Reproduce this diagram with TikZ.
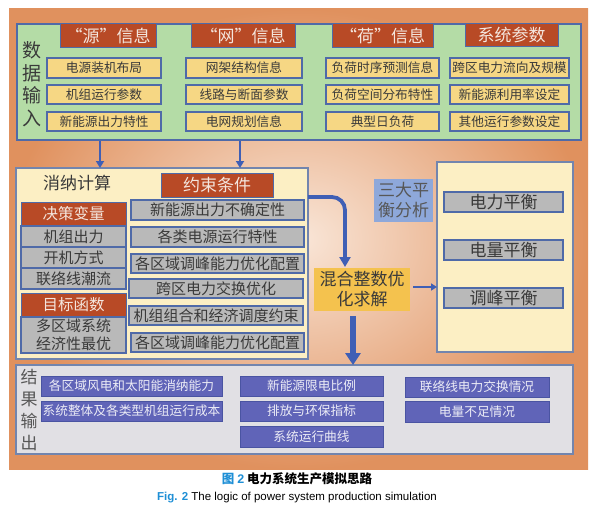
\documentclass[tikz,border=0pt]{standalone}
\usepackage{fontspec}
\setmainfont{Noto Sans CJK SC}
\newfontfamily\lat{Liberation Sans}
\usetikzlibrary{arrows.meta}
\definecolor{bgout}{HTML}{E0915E}
\definecolor{bgin}{HTML}{F9E6D8}
\definecolor{grn}{HTML}{B4DCA6}
\definecolor{hdrc}{HTML}{B84A26}
\definecolor{hdrtxt}{HTML}{F4E6DE}
\definecolor{yel}{HTML}{F6D784}
\definecolor{bord}{HTML}{4F6AA8}
\definecolor{pnl}{HTML}{FCEFC4}
\definecolor{pnlb}{HTML}{7285AE}
\definecolor{gry}{HTML}{B9B9B9}
\definecolor{txt}{HTML}{3A3A3A}
\definecolor{mip}{HTML}{F4C24E}
\definecolor{sdb}{HTML}{8EA8DA}
\definecolor{resp}{HTML}{E1E0E4}
\definecolor{resb}{HTML}{6064B8}
\definecolor{resbb}{HTML}{4A54A2}
\definecolor{restxt}{HTML}{ECECF6}
\definecolor{arr}{HTML}{3F5FB5}
\definecolor{capblue}{HTML}{1E8FD6}
\newcommand\bx[7]{\node[#1,minimum width={#5pt-#3pt},minimum height={#6pt-#4pt}] (#2) at ({(#3+#5)/2},{(#4+#6)/2}) {#7};}
\begin{document}
\begin{tikzpicture}[x=1pt,y=-1pt,
  every node/.style={inner sep=0pt,outer sep=0pt},
  panel/.style={draw=pnlb,line width=1.2pt},
  hdr/.style={fill=hdrc,draw=bord,line width=1pt,text=hdrtxt,font=\fontsize{17}{17}\selectfont},
  ybox/.style={fill=yel,draw=bord,line width=1.2pt,text=txt,font=\fontsize{12.7}{13}\selectfont},
  gbox/.style={fill=gry,draw=bord,line width=1.2pt,text=txt,font=\fontsize{15}{18}\selectfont,align=center},
  rbox/.style={fill=resb,draw=resbb,line width=1pt,text=restxt,font=\fontsize{12.7}{13}\selectfont},
  plain/.style={text=txt,align=center},
  thinarrow/.style={draw=arr,line width=2.6pt,-{Triangle[length=7pt,width=8pt]}},
]
\useasboundingbox (0,0) rectangle (594,511);
\fill[white] (0,0) rectangle (594,511);
\shade[inner color=bgin,outer color=bgout] (9,9) rectangle (588,469);

% ---------- data input ----------
\bx{panel,draw=bord,fill=grn}{din}{17}{24}{581}{140}{}
\node[plain,font=\fontsize{19}{22.5}\selectfont] (dinlab) at (32,84) {数\\据\\输\\入};
\bx{hdr}{h1}{60}{24}{156}{48}{“源”信息}
\bx{hdr}{h2}{191}{24}{295}{48}{“网”信息}
\bx{hdr}{h3}{332}{24}{433}{48}{“荷”信息}
\bx{hdr}{h4}{465}{24}{558}{47}{系统参数}

\bx{ybox}{a1}{47}{58}{161}{78}{电源装机布局}
\bx{ybox}{a2}{47}{85}{161}{104}{机组运行参数}
\bx{ybox}{a3}{47}{112}{161}{131}{新能源出力特性}
\bx{ybox}{b1}{186}{58}{302}{78}{网架结构信息}
\bx{ybox}{b2}{186}{85}{302}{104}{线路与断面参数}
\bx{ybox}{b3}{186}{112}{302}{131}{电网规划信息}
\bx{ybox}{c1}{326}{58}{439}{78}{负荷时序预测信息}
\bx{ybox}{c2}{326}{85}{439}{104}{负荷空间分布特性}
\bx{ybox}{c3}{326}{112}{439}{131}{典型日负荷}
\bx{ybox}{d1}{450}{58}{569}{78}{跨区电力流向及规模}
\bx{ybox}{d2}{450}{85}{569}{104}{新能源利用率设定}
\bx{ybox}{d3}{450}{112}{569}{131}{其他运行参数设定}

% ---------- accommodation calculation ----------
\bx{panel,fill=pnl}{calc}{16}{168}{308}{359}{}
\node[plain,font=\fontsize{17}{17}\selectfont] (calclab) at (77,183) {消纳计算};
\bx{hdr}{ycon}{161}{173}{273}{197}{约束条件}
\bx{hdr,font=\fontsize{15.5}{16}\selectfont}{dv}{21}{202}{126}{226}{决策变量}
\bx{gbox}{v1}{21}{226}{126}{247}{机组出力}
\bx{gbox}{v2}{21}{247}{126}{268}{开机方式}
\bx{gbox}{v3}{21}{268}{126}{289}{联络线潮流}
\bx{hdr,font=\fontsize{15.5}{16}\selectfont}{obj}{21}{293}{126}{317}{目标函数}
\bx{gbox}{o1}{21}{317}{126}{353}{多区域系统\\经济性最优}

\bx{gbox}{k1}{131}{200}{304}{220}{新能源出力不确定性}
\bx{gbox}{k2}{131}{227}{304}{247}{各类电源运行特性}
\bx{gbox}{k3}{131}{254}{304}{273}{各区域调峰能力优化配置}
\bx{gbox}{k4}{129}{279}{303}{298}{跨区电力交换优化}
\bx{gbox}{k5}{129}{306}{303}{325}{机组组合和经济调度约束}
\bx{gbox}{k6}{131}{333}{304}{352}{各区域调峰能力优化配置}

% ---------- solver & balance ----------
\bx{fill=mip,text=txt,font=\fontsize{17}{20}\selectfont,align=center}{mipn}{314}{268}{410}{311}{混合整数优\\化求解}
\bx{fill=sdb,text=txt!85,font=\fontsize{17}{20}\selectfont,align=center}{sda}{374}{179}{433}{222}{三大平\\衡分析}
\bx{panel,fill=pnl}{bal}{437}{162}{573}{352}{}
\bx{gbox,font=\fontsize{17}{17}\selectfont}{e1}{444}{192}{563}{212}{电力平衡}
\bx{gbox,font=\fontsize{17}{17}\selectfont}{e2}{444}{240}{563}{260}{电量平衡}
\bx{gbox,font=\fontsize{17}{17}\selectfont}{e3}{444}{288}{563}{308}{调峰平衡}

% ---------- results ----------
\bx{panel,fill=resp}{res}{16}{365}{573}{454}{}
\node[plain,text=txt!85,font=\fontsize{17}{21.7}\selectfont] (reslab) at (29,410) {结\\果\\输\\出};
\bx{rbox}{r1}{41}{376}{222}{396}{各区域风电和太阳能消纳能力}
\bx{rbox}{r2}{41}{401}{222}{421}{系统整体及各类型机组运行成本}
\bx{rbox}{r3}{240}{376}{383}{396}{新能源限电比例}
\bx{rbox}{r4}{240}{401}{383}{421}{排放与环保指标}
\bx{rbox}{r5}{240}{426}{383}{447}{系统运行曲线}
\bx{rbox}{r6}{405}{377}{549}{397}{联络线电力交换情况}
\bx{rbox}{r7}{405}{401}{549}{422}{电量不足情况}

% ---------- arrows ----------
\coordinate (ds1) at (100,141);
\coordinate (ds2) at (240,141);
\draw[thinarrow] (ds1) -- (ds1 |- calc.north);
\draw[thinarrow] (ds2) -- (ds2 |- calc.north);
\coordinate (cv1) at (308,197);
\coordinate (cv2) at (345,267);
\draw[draw=arr,line width=3.8pt,rounded corners=13pt,-{Triangle[length=10pt,width=11pt]}] (cv1) -| (cv2);
\coordinate (ra) at (413,287);
\draw[draw=arr,line width=2.6pt,-{Triangle[length=6pt,width=7pt]}] (ra) -- (ra -| bal.west);
\coordinate (da) at (353,316);
\draw[draw=arr,line width=6pt,-{Triangle[length=12pt,width=15pt]}] (da) -- (da |- res.north);

% ---------- caption ----------
\node[font=\fontsize{12.5}{13}\selectfont\bfseries] (cap1) at (297,479) {\textcolor{capblue}{图 {\lat 2}} 电力系统生产模拟思路};
\node[font=\lat\fontsize{11.5}{12}\selectfont] (cap2) at (297,498) {\textcolor{capblue}{\bfseries Fig. 2} The logic of power system production simulation};
\end{tikzpicture}
\end{document}
